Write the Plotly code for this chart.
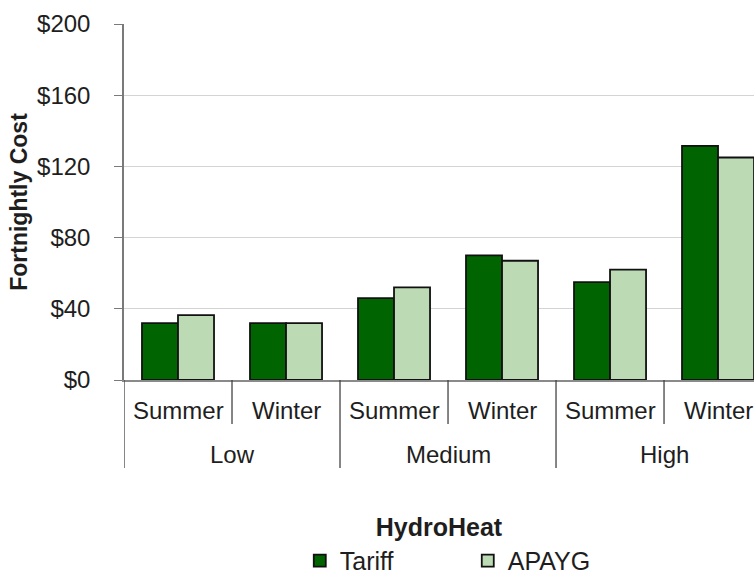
import plotly.graph_objects as go

levels = ["Low", "Low", "Medium", "Medium", "High", "High"]
seasons = ["Summer", "Winter", "Summer", "Winter", "Summer", "Winter"]
level_names = ["Low", "Medium", "High"]
tariff = [32, 32, 46, 70, 55, 131.5]
apayg = [36.5, 32, 52, 67, 62, 125]
y_ticks = [0, 40, 80, 120, 160, 200]
y_ticklabels = ["$0", "$40", "$80", "$120", "$160", "$200"]

FONT = "Liberation Sans, Arial, sans-serif"
TXT = "#1e1e1e"

cats = [f"{l} {s}" for l, s in zip(levels, seasons)]

fig = go.Figure()
fig.add_trace(go.Bar(name="Tariff", x=cats, y=tariff,
                     marker=dict(color="#006400", line=dict(color="#111111", width=1.8))))
fig.add_trace(go.Bar(name="APAYG", x=cats, y=apayg,
                     marker=dict(color="#bcdbb5", line=dict(color="#111111", width=1.8))))

# paper-y helper: plot area is 356 px tall, its bottom at page y = 380 px
def py(px):
    return (380 - px) / 356.0

annotations = []
shapes = []
# inner (season) labels and short dividers
for i, s in enumerate(seasons):
    annotations.append(dict(x=i, y=py(410), xref="x", yref="paper", text=s,
                            showarrow=False, xanchor="center", yanchor="middle",
                            font=dict(size=24, color=TXT)))
    if i % 2 == 1:
        shapes.append(dict(type="line", xref="x", yref="paper", x0=i - 0.5, x1=i - 0.5,
                           y0=0, y1=py(424), line=dict(color="#444444", width=1.3)))
# outer (level) labels and long dividers
for g, name in enumerate(level_names):
    annotations.append(dict(x=2 * g + 0.5, y=py(454), xref="x", yref="paper", text=name,
                            showarrow=False, xanchor="center", yanchor="middle",
                            font=dict(size=24, color=TXT)))
    shapes.append(dict(type="line", xref="x", yref="paper", x0=2 * g - 0.5, x1=2 * g - 0.5,
                       y0=0, y1=py(468), line=dict(color="#444444", width=1.3)))

fig.update_layout(
    width=754, height=574,
    margin=dict(l=124, r=0, t=24, b=194, autoexpand=False),
    paper_bgcolor="white", plot_bgcolor="white",
    barmode="group", bargap=0.333, bargroupgap=0,
    font=dict(family=FONT, color=TXT, size=24),
    showlegend=True,
    legend=dict(orientation="h", x=0.279, xanchor="left", y=-0.508, yanchor="middle",
                font=dict(size=25, color=TXT), entrywidth=123, entrywidthmode="pixels",
                itemwidth=30, traceorder="normal", bgcolor="rgba(0,0,0,0)"),
    xaxis=dict(type="category", range=[-0.5, 5.333], automargin=False,
               showline=True, linecolor="#8a8a8a", linewidth=1.5,
               ticks="", showticklabels=False,
               title=dict(text="<b>HydroHeat</b>", font=dict(size=25, color=TXT), standoff=138),
               showgrid=False, zeroline=False),
    yaxis=dict(range=[0, 200], tickvals=y_ticks, ticktext=y_ticklabels, automargin=False,
               showline=True, linecolor="#7a7a7a", linewidth=1.5,
               ticks="outside", ticklen=8, tickcolor="#7a7a7a", tickwidth=1.3,
               ticklabelstandoff=19,
               showgrid=True, gridcolor="#d4d4d4", gridwidth=1.3,
               zeroline=False,
               tickfont=dict(size=24, color=TXT),
               title=dict(text="<b>Fortnightly Cost</b>", font=dict(size=23, color=TXT), standoff=3)),
    annotations=annotations,
    shapes=shapes,
)

fig.write_html(
    "out.html",
    config={"displayModeBar": False},
    post_script="document.body.style.margin='0';document.body.style.overflow='hidden';",
)
